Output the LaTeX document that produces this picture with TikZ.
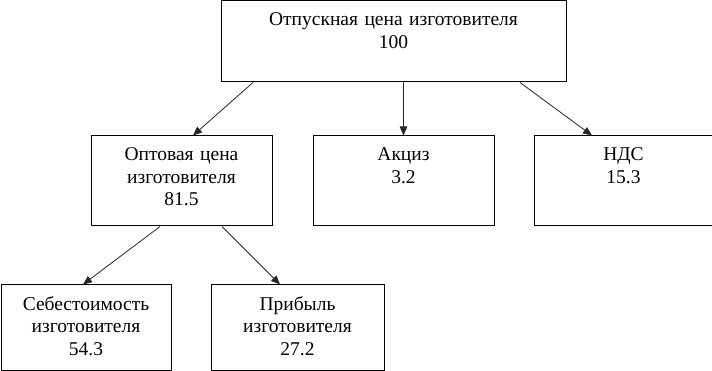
\documentclass[tikz,border=0pt]{standalone}
\usepackage{fontspec}
\setmainfont{Liberation Serif}
\usepackage{tikz}
\usetikzlibrary{arrows.meta,positioning}

\begin{document}
\begin{tikzpicture}[
  x=1pt, y=-1pt,
  node distance=40pt,
  blok/.style={rectangle, draw=black, line width=1pt, inner xsep=0pt, inner ysep=6pt,
    align=center, text height=19pt, font=\fontsize{19.5}{22.5}\selectfont},
  arr/.style={-{Triangle[length=9pt,width=7.5pt]}, black!85, line width=0.8pt}]
\useasboundingbox (0,0) rectangle (712,371);
\node[blok, text width=345pt, text depth=50pt] (otp) at (393.5,41.5) {Отпускная цена изготовителя\\100};
\node[blok, text width=181pt, text depth=59pt] (opt) at (181.5,181) {Оптовая цена\\изготовителя\\81.5};
\node[blok, text width=181pt, text depth=59pt, right=of opt] (akc) {Акциз\\3.2};
\node[blok, text width=179pt, text depth=59pt, right=39pt of akc] (nds) {НДС\\15.3};
\node[blok, text width=170pt, text depth=54pt] (seb) at (86,327.5) {Себестоимость\\изготовителя\\54.3};
\node[blok, text width=173pt, text depth=54pt] (prib) at (297.5,327.5) {Прибыль\\изготовителя\\27.2};
\draw[arr] ([xshift=-140.5pt]otp.south) -- ([xshift=11.5pt]opt.north);
\draw[arr] (otp.south -| akc.north) -- (akc.north);
\draw[arr] ([xshift=126.5pt]otp.south) -- ([xshift=-31.5pt]nds.north);
\draw[arr] ([xshift=-21.5pt]opt.south) -- ([xshift=-3pt]seb.north);
\draw[arr] ([xshift=40.5pt]opt.south) -- ([xshift=-17.5pt]prib.north);
\end{tikzpicture}
\end{document}
